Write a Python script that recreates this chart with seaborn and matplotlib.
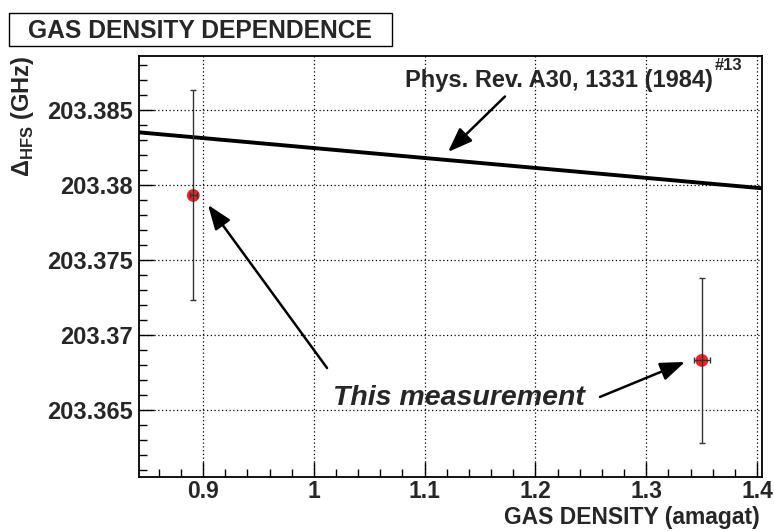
import matplotlib
matplotlib.use('Agg')
import matplotlib.pyplot as plt
from matplotlib.patches import Rectangle
from matplotlib.ticker import MultipleLocator, FixedLocator
import seaborn as sns

# measured points (this measurement)
density = [0.8912, 1.3502]
density_err = [0.0033, 0.0075]
hfs = [203.3793, 203.3683]
hfs_err = [0.0070, 0.0055]

# Phys. Rev. A30, 1331 (1984) density dependence
ref_density = [0.8422, 1.4045]
ref_hfs = [203.38351, 203.37978]

x_ticks = [0.9, 1.0, 1.1, 1.2, 1.3, 1.4]
x_tick_labels = ['0.9', '1', '1.1', '1.2', '1.3', '1.4']
y_ticks = [203.365, 203.37, 203.375, 203.38, 203.385]
y_tick_labels = ['203.365', '203.37', '203.375', '203.38', '203.385']

sns.set_style('white')
plt.rcParams['font.family'] = ['Liberation Sans', 'DejaVu Sans']
plt.rcParams['font.weight'] = 'bold'
plt.rcParams['mathtext.fontset'] = 'custom'
plt.rcParams['mathtext.rm'] = 'Liberation Sans'
plt.rcParams['mathtext.bf'] = 'Liberation Sans:bold'

fig = plt.figure(figsize=(7.74, 5.31), dpi=100)
W, H = 774, 531
ax = fig.add_axes([139 / W, 1 - 477 / H, 623 / W, 421 / H])

# reference line
sns.lineplot(x=ref_density, y=ref_hfs, ax=ax, color='black', lw=2.8, zorder=2)

# data points with error bars
sns.scatterplot(x=density, y=hfs, ax=ax, color='#e8262a', s=85, edgecolor='none', zorder=3)
ax.errorbar(density, hfs, xerr=density_err, yerr=hfs_err, fmt='none',
            ecolor='#333333', elinewidth=1.0, capsize=2.5, capthick=1.0, zorder=4)

ax.set_xlim(0.8422, 1.4045)
ax.set_ylim(203.36053, 203.3886)

ax.xaxis.set_major_locator(FixedLocator(x_ticks))
ax.set_xticklabels(x_tick_labels)
ax.xaxis.set_minor_locator(MultipleLocator(0.02))
ax.yaxis.set_major_locator(FixedLocator(y_ticks))
ax.set_yticklabels(y_tick_labels)
ax.yaxis.set_minor_locator(MultipleLocator(0.001))

ax.tick_params(which='both', direction='in', left=True, bottom=True,
               top=False, right=False, color='black', width=1.0)
ax.tick_params(which='major', length=11)
ax.tick_params(which='minor', length=6)
ax.tick_params(axis='y', pad=4.5, labelsize=17)
ax.tick_params(axis='x', pad=2, labelsize=16.5)

ax.grid(True, which='major', ls=(0, (1, 2)), color='black', lw=0.9)
for sp in ax.spines.values():
    sp.set_color('black')
    sp.set_linewidth(1.3)

ax.set_ylabel(r'$\Delta_{\mathbf{HFS}}$ (GHz)', fontsize=17, fontweight='bold', loc='top')
ax.yaxis.set_label_coords(-0.165, 1.0)
ax.set_xlabel('')
fig.text(760 / W, 2 / H, 'GAS DENSITY (amagat)', fontsize=16.5, fontweight='bold',
         ha='right', va='bottom')

# reference label
ref_txt = ax.text(1.3603, 203.38653, 'Phys. Rev. A30, 1331 (1984)', fontsize=17,
                  fontweight='bold', ha='right', va='baseline')
ax.annotate('#13', xy=(1.005, 0.84), xycoords=ref_txt, fontsize=12,
            fontweight='bold', ha='left', va='bottom')

# measurement label
ax.text(1.0173, 203.36533, 'This measurement', fontsize=20.5, fontweight='bold',
        style='italic', ha='left', va='baseline')

arrow_style = dict(arrowstyle='-|>,head_length=0.75,head_width=0.28', color='black',
                   lw=1.8, mutation_scale=20, shrinkA=0, shrinkB=0)
ax.annotate('', xy=(1.1211, 203.3822), xytext=(1.1725, 203.3859), arrowprops=arrow_style)
ax.annotate('', xy=(0.9045, 203.37867), xytext=(1.0119, 203.3678), arrowprops=arrow_style)
ax.annotate('', xy=(1.3350, 203.3682), xytext=(1.2583, 203.36587), arrowprops=arrow_style)

# title box
fig.patches.append(Rectangle((9 / W, 1 - 45.7 / H), 383 / W, 33 / H, transform=fig.transFigure,
                             fill=False, edgecolor='black', lw=1.0))
fig.text(28 / W, 1 - 38.5 / H, 'GAS DENSITY DEPENDENCE', fontsize=17.7, fontweight='bold',
         ha='left', va='baseline')

fig.savefig('out.png', dpi=100)
